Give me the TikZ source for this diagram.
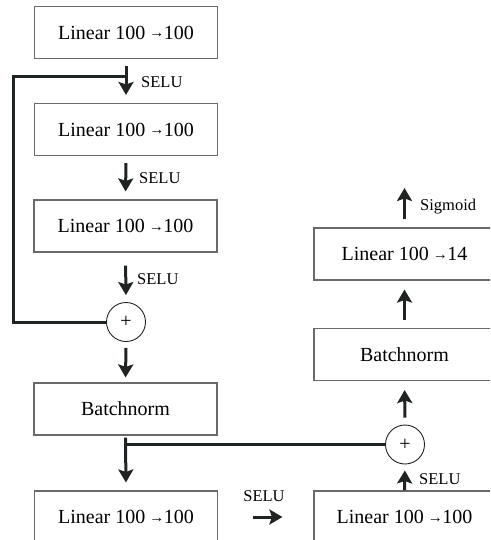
\documentclass[tikz,border=0pt]{standalone}
\usepackage{fontspec}
\setmainfont{Liberation Serif}
\usetikzlibrary{arrows.meta,calc}
\newcommand{\rar}{\kern-1pt{\fontsize{15}{15}\selectfont\raisebox{1.5pt}{→}}\kern-0.5pt}
\definecolor{ink}{HTML}{1E2422}
\definecolor{boxline}{HTML}{6A6A6A}
\tikzset{
  blk/.style={draw=boxline, line width=1.1pt, minimum width=183pt, minimum height=52pt,
    inner sep=0pt, font=\fontsize{20}{20}\selectfont},
  rblk/.style={blk, minimum width=181pt},
  sumnode/.style={circle, draw=ink, line width=0.9pt, minimum size=39pt, inner sep=0pt,
    font=\fontsize{20}{20}\selectfont},
  arr/.style={draw=ink, line width=3pt, -{Stealth[length=13pt,width=15pt,inset=2.5pt]}},
  ln/.style={draw=ink, line width=3pt},
  lbl/.style={font=\fontsize{16.5}{16.5}\selectfont, inner sep=0pt, anchor=west}
}
\begin{document}
\begin{tikzpicture}[x=1pt,y=-1pt]
\useasboundingbox (0,0) rectangle (490,540);
\clip (0,0) rectangle (490,540);
% left column
\node[blk] (b1) at (126,32.5) {Linear 100 \rar100};
\node[blk] (b2) at (126,129.5) {Linear 100 \rar100};
\node[blk] (b3) at (125.5,226) {Linear 100 \rar100};
\node[sumnode] (c1) at (126,322) {+};
\node[blk] (bn1) at (125.5,409) {Batchnorm};
\node[blk] (b4) at (126,517) {Linear 100 \rar100};
% right column
\node[rblk] (b5) at (404.5,517) {Linear 100 \rar100};
\node[sumnode] (c2) at (405,444.5) {+};
\node[rblk] (bn2) at (404.5,354.5) {Batchnorm};
\node[rblk] (l14) at (404.5,254) {Linear 100 \rar14};
\coordinate (sig) at (404.5,188);
% connectors
\draw[arr, shorten <=7pt, shorten >=8pt] (b1.south) -- (b2.north);
\draw[arr, shorten <=7pt, shorten >=8pt] (b2.south) -- (b3.north);
\draw[arr, shorten <=13pt, shorten >=7pt] (b3.south) -- (c1.north);
\draw[arr, shorten <=6pt, shorten >=5pt] (c1.south) -- (bn1.north);
\draw[arr, shorten <=2pt, shorten >=8pt] (bn1.south) -- (b4.north);
\draw[arr, shorten <=35pt, shorten >=31pt] (b4.east) -- (b5.west);
\draw[arr, shorten >=6pt] (b5.north) -- (c2.south);
\draw[arr, shorten <=7pt, shorten >=9pt] (c2.north) -- (bn2.south);
\draw[arr, shorten <=8pt, shorten >=9pt] (bn2.north) -- (l14.south);
\draw[arr, shorten <=8pt] (l14.north) -- (sig);
% skip connections
\coordinate (j1) at ($(b1.south)+(0,17)$);
\coordinate (k1) at (13,75);
\draw[ln] (j1) -- (k1 |- j1) |- (c1.west);
\coordinate (j2) at (bn1.south |- c2.west);
\draw[ln] (j2) -- (c2.west);
% labels
\node[lbl] (s1) at (141,82) {SELU};
\node[lbl] (s2) at (139,178.5) {SELU};
\node[lbl] (s3) at (137,279) {SELU};
\node[lbl, anchor=center] (s4) at (264,496.5) {SELU};
\node[lbl] (s5) at (419,479.5) {SELU};
\node[lbl] (s6) at (420,207) {Sigmoid};
\end{tikzpicture}
\end{document}
